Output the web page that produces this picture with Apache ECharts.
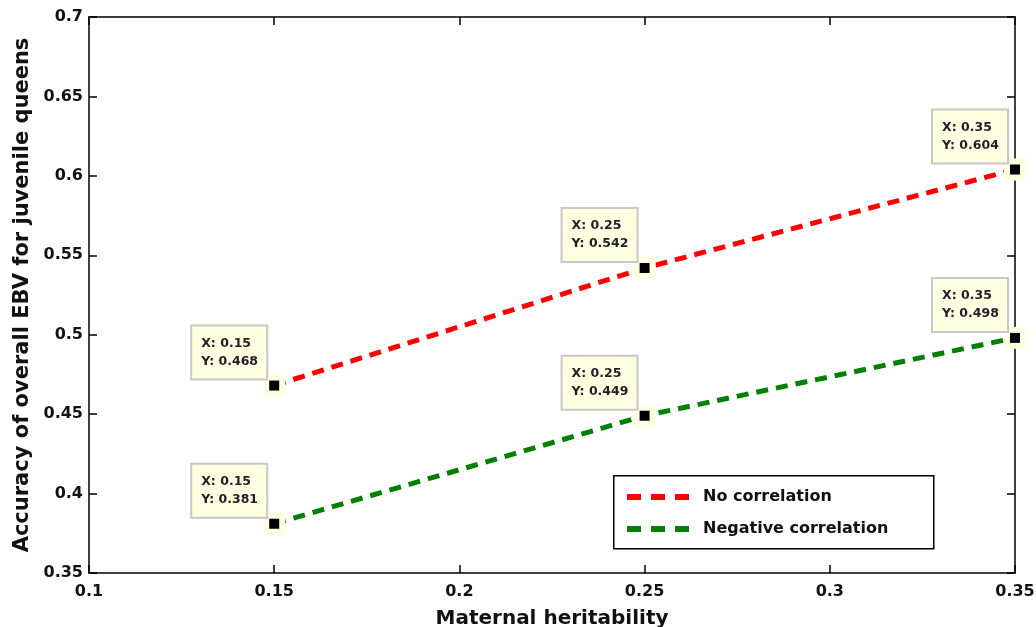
<!DOCTYPE html>
<html>
<head>
<meta charset="utf-8">
<script src="https://cdn.jsdelivr.net/npm/echarts@6/dist/echarts.min.js"></script>
<style>
html,body{margin:0;padding:0;background:#fff;}
#chart{width:1036px;height:627px;}
</style>
</head>
<body>
<div id="chart"></div>
<script>
const heritability = [0.15, 0.25, 0.35];
const noCorrelation = [0.468, 0.542, 0.604];
const negativeCorrelation = [0.381, 0.449, 0.498];
const seriesNames = ['No correlation', 'Negative correlation'];
const seriesColors = ['#ff0000', '#008000'];
const xTicks = [0.1, 0.15, 0.2, 0.25, 0.3, 0.35];
const yTicks = [0.35, 0.4, 0.45, 0.5, 0.55, 0.6, 0.65, 0.7];

const FONT = 'DejaVu Sans';
const chart = echarts.init(document.getElementById('chart'));

function pairs(ys){ return heritability.map((x,i)=>[x, ys[i]]); }
const allSets = [noCorrelation, negativeCorrelation];
const legendIcon = 'path://M0,0h14v6h-14z M24,0h14v6h-14z M48,0h14v6h-14z';

const lineSeries = allSets.map((ys, k) => ({
  name: seriesNames[k],
  type: 'line',
  data: pairs(ys),
  symbol: 'none',
  z: 2,
  lineStyle: {color: seriesColors[k], width: 5, type: [12, 8]},
  itemStyle: {color: seriesColors[k]}
}));

const tipPts = [];
allSets.forEach(ys => pairs(ys).forEach(p => tipPts.push(p)));

const tipSeries = {
  type: 'scatter',
  data: tipPts,
  symbol: 'rect',
  symbolSize: 22,
  z: 4,
  silent: true,
  itemStyle: {color: '#ffffe1', opacity: 1},
  label: {
    show: true,
    position: [-71, 4],
    align: 'left',
    verticalAlign: 'bottom',
    width: 59,
    formatter: p => 'X: ' + p.value[0] + '\nY: ' + p.value[1],
    fontFamily: FONT,
    fontSize: 12.5,
    fontWeight: 'bold',
    lineHeight: 18,
    color: '#1e1e28',
    backgroundColor: '#ffffe1',
    borderColor: '#c8c8c8',
    borderWidth: 2,
    padding: [8, 6, 8, 9]
  }
};
const dotSeries = {
  type: 'scatter',
  data: tipPts,
  symbol: 'rect',
  symbolSize: 10,
  z: 5,
  silent: true,
  itemStyle: {color: '#000', opacity: 1}
};

const axisCommon = {
  type: 'value',
  axisLine: {show: true, lineStyle: {color: '#000', width: 1.5}},
  axisTick: {show: true, inside: true, length: 8, lineStyle: {color: '#000', width: 1.5}},
  splitLine: {show: false}
};

chart.setOption({
  animation: false,
  backgroundColor: '#fff',
  grid: {left: 89, right: 21, top: 17, bottom: 54, containLabel: false, outerBoundsMode: 'none'},
  xAxis: [
    Object.assign({}, axisCommon, {
      min: 0.1, max: 0.35, interval: 0.05, position: 'bottom',
      axisLabel: {fontFamily: FONT, fontSize: 16, fontWeight: 'bold', color: '#111', margin: 11,
        formatter: v => String(+v.toFixed(2))},
      name: 'Maternal heritability', nameLocation: 'middle', nameGap: 36,
      nameTextStyle: {fontFamily: FONT, fontSize: 20, fontWeight: 'bold', color: '#111'}
    }),
    Object.assign({}, axisCommon, {
      min: 0.1, max: 0.35, interval: 0.05, position: 'top',
      axisLabel: {show: false}
    })
  ],
  yAxis: [
    Object.assign({}, axisCommon, {
      min: 0.35, max: 0.7, interval: 0.05, position: 'left',
      axisLabel: {fontFamily: FONT, fontSize: 16, fontWeight: 'bold', color: '#111', margin: 6,
        formatter: v => String(+v.toFixed(2))},
      name: 'Accuracy of overall EBV for juvenile queens', nameLocation: 'middle', nameGap: 56,
      nameTextStyle: {fontFamily: FONT, fontSize: 21, fontWeight: 'bold', color: '#111'}
    }),
    Object.assign({}, axisCommon, {
      min: 0.35, max: 0.7, interval: 0.05, position: 'right',
      axisLabel: {show: false}
    })
  ],
  legend: {
    data: seriesNames.map(n => ({name: n, icon: legendIcon})),
    orient: 'vertical',
    left: 627,
    top: 487,
    padding: 0,
    itemWidth: 62,
    itemHeight: 6,
    itemGap: 12,
    z: 10,
    textStyle: {fontFamily: FONT, fontSize: 16, fontWeight: 'bold', color: '#111', lineHeight: 20, padding: [0, 0, 0, 9]}
  },
  graphic: [{
    type: 'rect', left: 613, top: 475, z: 1,
    shape: {width: 320, height: 73},
    style: {fill: '#fff', stroke: '#000', lineWidth: 1.5}
  }],
  series: lineSeries.concat([tipSeries, dotSeries])
});
</script>
</body>
</html>
